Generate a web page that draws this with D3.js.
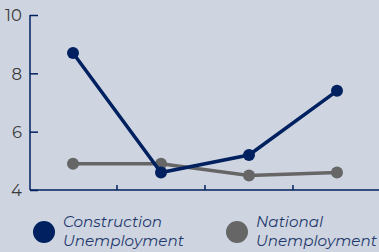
<!DOCTYPE html>
<html><head><meta charset="utf-8">
<script src="https://cdn.jsdelivr.net/npm/d3@7"></script>
<style>
html,body{margin:0;padding:0;background:#cfd5e0;}
svg{display:block;}
</style></head>
<body>
<svg id="c" width="379" height="252"></svg>
<script>
const categories = ["Q1","Q2","Q3","Q4"];
const construction = [8.7, 4.6, 5.2, 7.4];
const national = [4.9, 4.9, 4.5, 4.6];
const yTicks = [4, 6, 8, 10];
const seriesNames = ["Construction\nUnemployment", "National\nUnemployment"];

const navy = "#002060", gray = "#666666";
const svg = d3.select("#c");
svg.append("rect").attr("width",379).attr("height",252).attr("fill","#cfd5e0");

const x = d3.scaleBand().domain(categories).range([29, 381]);
const y = d3.scaleLinear().domain([4, 10]).range([190, 15]);

// Y axis
const ya = svg.append("g").attr("transform","translate(30,0)")
  .call(d3.axisRight(y).tickValues(yTicks).tickSize(8).tickFormat(d3.format("d")));
ya.select(".domain").attr("stroke",navy).attr("stroke-width",1.5).attr("d","M0,15V190");
ya.selectAll(".tick line").attr("stroke",navy).attr("stroke-width",1.5);
ya.selectAll(".tick text").attr("x",-8).attr("text-anchor","end")
  .attr("fill","#3a3a3a").style("font-family","Montserrat, 'Open Sans', sans-serif")
  .style("font-size","16.5px").attr("dy","0.35em");

// X axis
const xa = svg.append("g").attr("transform","translate(0,190)")
  .call(d3.axisTop(x).tickSize(5).tickFormat(""));
xa.select(".domain").attr("stroke",navy).attr("stroke-width",1.5).attr("d","M30,0H379");
xa.selectAll(".tick").attr("transform", d => `translate(${x(d)},0)`);
xa.selectAll(".tick").filter((d,i)=>i===0).remove();
xa.selectAll(".tick line").attr("stroke",navy).attr("stroke-width",1.5);

const cx = d => x(d) + x.bandwidth()/2;
const line = d3.line().x((d,i)=>cx(categories[i])).y(d=>y(d));

function drawSeries(vals, color){
  svg.append("path").datum(vals).attr("d",line).attr("fill","none")
    .attr("stroke",color).attr("stroke-width",3.5);
  svg.selectAll(null).data(vals).enter().append("circle")
    .attr("cx",(d,i)=>cx(categories[i])).attr("cy",d=>y(d)).attr("r",6).attr("fill",color);
}
drawSeries(national, gray);
drawSeries(construction, navy);

// Legend
const legend = [{name:seriesNames[0], color:navy, x:44}, {name:seriesNames[1], color:gray, x:237}];
legend.forEach(l=>{
  svg.append("circle").attr("cx",l.x).attr("cy",232).attr("r",11).attr("fill",l.color);
  const t = svg.append("text").attr("x",l.x+19).attr("y",227)
    .attr("fill","#1f3a6e").style("font-family","Montserrat, 'Open Sans', sans-serif")
    .style("font-size","15.2px").style("font-style","italic");
  l.name.split("\n").forEach((s,i)=>t.append("tspan").attr("x",l.x+19).attr("dy",i?19:0).text(s));
});
</script>
</body></html>
